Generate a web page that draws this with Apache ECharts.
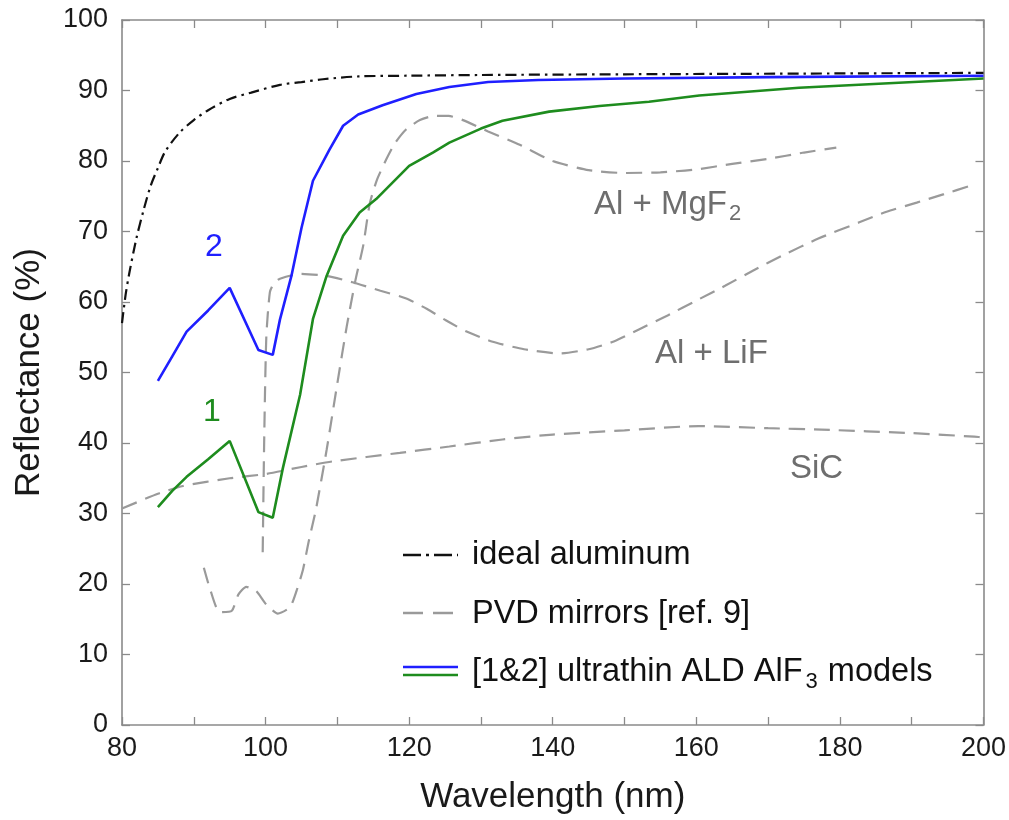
<!DOCTYPE html>
<html>
<head>
<meta charset="utf-8">
<script src="https://cdn.jsdelivr.net/npm/echarts@6/dist/echarts.min.js"></script>
<style>
html,body{margin:0;padding:0;background:#fff;}
#chart{width:1009px;height:820px;}
</style>
</head>
<body>
<div id="chart"></div>
<script>
// ---- data (wavelength nm, reflectance %) ----
var idealAlX = [80, 80.5, 81, 82, 83, 84, 85, 86, 88, 90, 92, 95, 98, 102, 105, 108, 113, 120, 130, 150, 175, 200];
var idealAlY = [57, 61, 64, 69, 73, 76.5, 79, 81.3, 84, 85.8, 87.2, 88.8, 89.7, 90.8, 91.2, 91.6, 92, 92.1, 92.2, 92.3, 92.4, 92.5];

var model2X = [85, 87, 89, 92, 95, 99, 101, 102, 103.6, 105, 106.6, 108.9, 110.8, 112.9, 116.3, 121, 125.6, 131, 138, 150, 170, 200];
var model2Y = [48.8, 52.3, 55.8, 58.8, 62, 53.2, 52.5, 57.5, 63.7, 70.5, 77.2, 81.6, 85, 86.6, 87.9, 89.5, 90.5, 91.2, 91.5, 91.7, 91.9, 92.1];

var model1X = [85, 87, 89, 92, 95, 99, 101, 102.4, 104.8, 106.6, 108.5, 110.8, 113.1, 115.4, 120, 123.3, 125.6, 130, 133, 139.5, 146.5, 153.4, 160.4, 174.3, 188.2, 200];
var model1Y = [30.9, 33.2, 35.2, 37.7, 40.3, 30.2, 29.4, 36.4, 46.8, 57.6, 63.7, 69.4, 72.7, 74.6, 79.3, 81.2, 82.6, 84.6, 85.7, 87, 87.8, 88.4, 89.3, 90.4, 91.1, 91.7];

var mgf2X = [91.4, 92.2, 93.6, 95.3, 96.2, 97.3, 98.7, 100.1, 101.7, 103.4, 104.3, 105.2, 106, 107, 108.5, 110, 111.3, 112.5, 113.6, 114.5, 115.5, 116.8, 118, 119.6, 121.5, 123.5, 125.5, 127.5, 131, 135.4, 140, 145, 150, 155, 160, 165, 170, 175, 179.5];
var mgf2Y = [22.3, 19.5, 16, 16.2, 18.5, 19.6, 19, 17.1, 15.8, 16.7, 19, 22, 26, 30.5, 39, 48.5, 56.5, 63, 68, 73.9, 77.3, 80.2, 82.5, 84.5, 85.8, 86.4, 86.4, 85.8, 84.2, 82.3, 80, 78.7, 78.3, 78.4, 78.8, 79.6, 80.3, 81.2, 81.9];

var lifX = [99.6, 99.8, 100.1, 100.6, 101.2, 102, 104.8, 108.5, 112.1, 116, 119.6, 122.5, 125.1, 128, 131.5, 136, 141, 145, 148.5, 152, 156, 160, 164, 168, 172, 177, 182.7, 186.5, 190.7, 194.5, 198.2];
var lifY = [24.5, 40, 55, 61.4, 62.7, 63.3, 64, 63.7, 62.8, 61.6, 60.5, 59, 57.4, 55.8, 54.4, 53.3, 52.7, 53.3, 54.4, 56.1, 58.1, 60.2, 62.3, 64.5, 66.6, 69, 71.3, 72.8, 74.1, 75.3, 76.5];

var sicX = [80, 85, 88.5, 95, 100, 105, 109.4, 118.7, 125.6, 133, 140, 150, 160.3, 170, 177.4, 190, 198.7, 200];
var sicY = [30.7, 32.8, 33.9, 35, 35.6, 36.6, 37.4, 38.6, 39.5, 40.5, 41.2, 41.8, 42.4, 42.1, 41.9, 41.4, 40.9, 40.8];

var xTickLabels = [80, 100, 120, 140, 160, 180, 200];
var yTickLabels = [0, 10, 20, 30, 40, 50, 60, 70, 80, 90, 100];
var legendNames = ['ideal aluminum', 'PVD mirrors [ref. 9]', '[1&2] ultrathin ALD AlF3 models'];

function pairs(xs, ys) { return xs.map(function (x, i) { return [x, ys[i]]; }); }

var FONT = '"Liberation Sans", Arial, Helvetica, sans-serif';
var AXC = '#8a8a8a';
var GRAY = '#9a9a9a';
var TXTGRAY = '#6e6e6e';
var BLUE = '#1f1fff';
var GREEN = '#1e8c1e';

var chart = echarts.init(document.getElementById('chart'), null, { renderer: 'canvas' });

function axisCommon(extra) {
  var base = {
    type: 'value',
    axisLine: { show: true, onZero: false, lineStyle: { color: AXC, width: 1.6 } },
    axisTick: { show: true, inside: true, length: 8, lineStyle: { color: AXC, width: 1.3 } },
    splitLine: { show: false }
  };
  for (var k in extra) base[k] = extra[k];
  return base;
}

var dashGray = { color: GRAY, width: 2.2, type: [16, 9] };

var option = {
  backgroundColor: '#fff',
  animation: false,
  grid: { left: 122, right: 24, top: 20, bottom: 92 },
  xAxis: [
    axisCommon({
      position: 'bottom', min: 80, max: 200, interval: 10,
      name: 'Wavelength (nm)', nameLocation: 'middle', nameGap: 55,
      nameTextStyle: { fontSize: 35, color: '#1a1a1a', fontFamily: FONT },
      axisLabel: {
        margin: 10, fontSize: 27, color: '#1a1a1a', fontFamily: FONT,
        formatter: function (v) { return xTickLabels.indexOf(v) >= 0 ? String(v) : ''; }
      }
    }),
    axisCommon({ position: 'top', min: 80, max: 200, interval: 10, axisLabel: { show: false } })
  ],
  yAxis: [
    axisCommon({
      position: 'left', min: 0, max: 100, interval: 10,
      name: 'Reflectance (%)', nameLocation: 'middle', nameGap: 75,
      nameTextStyle: { fontSize: 35, color: '#1a1a1a', fontFamily: FONT },
      axisLabel: {
        margin: 14, fontSize: 27, color: '#1a1a1a', fontFamily: FONT,
        formatter: function (v) { return yTickLabels.indexOf(v) >= 0 ? String(v) : ''; }
      }
    }),
    axisCommon({ position: 'right', min: 0, max: 100, interval: 10, axisLabel: { show: false } })
  ],
  series: [
    { name: 'SiC', type: 'line', data: pairs(sicX, sicY), showSymbol: false, smooth: 0.2, lineStyle: dashGray, z: 2 },
    { name: 'Al + LiF', type: 'line', data: pairs(lifX, lifY), showSymbol: false, smooth: 0.2, lineStyle: dashGray, z: 2 },
    { name: 'Al + MgF2', type: 'line', data: pairs(mgf2X, mgf2Y), showSymbol: false, smooth: 0.2, lineStyle: dashGray, z: 2 },
    { name: 'ideal aluminum', type: 'line', data: pairs(idealAlX, idealAlY), showSymbol: false, smooth: 0.3,
      lineStyle: { color: '#111', width: 2.2, type: [11, 5, 2.5, 5] }, z: 3 },
    { name: 'model 1', type: 'line', data: pairs(model1X, model1Y), showSymbol: false,
      lineStyle: { color: GREEN, width: 2.6 }, z: 4 },
    { name: 'model 2', type: 'line', data: pairs(model2X, model2Y), showSymbol: false,
      lineStyle: { color: BLUE, width: 2.6 }, z: 5 }
  ],
  graphic: [
    // annotations
    { type: 'text', left: 205, top: 231, style: { text: '2', fontSize: 32, fill: BLUE, fontFamily: FONT } },
    { type: 'text', left: 203, top: 396, style: { text: '1', fontSize: 32, fill: GREEN, fontFamily: FONT } },
    { type: 'text', left: 594, top: 188, style: {
        text: '{m|Al + MgF}{s|2}', fontFamily: FONT, fill: TXTGRAY,
        rich: { m: { fontSize: 33, fill: TXTGRAY, fontFamily: FONT, verticalAlign: 'bottom', padding: [0, 0, 4, 0] },
                s: { fontSize: 22, fill: TXTGRAY, fontFamily: FONT, verticalAlign: 'bottom', padding: [0, 0, 0, 2] } } } },
    { type: 'text', left: 655, top: 337, style: { text: 'Al + LiF', fontSize: 33, fill: TXTGRAY, fontFamily: FONT } },
    { type: 'text', left: 790, top: 452, style: { text: 'SiC', fontSize: 33, fill: TXTGRAY, fontFamily: FONT } },
    // legend
    { type: 'line', shape: { x1: 403, y1: 555, x2: 458, y2: 555 }, style: { stroke: '#111', lineWidth: 2.4, lineDash: [18, 5, 3, 5] } },
    { type: 'text', left: 472, top: 539, style: { text: legendNames[0], fontSize: 32.5, fill: '#111', fontFamily: FONT } },
    { type: 'line', shape: { x1: 403, y1: 613, x2: 458, y2: 613 }, style: { stroke: GRAY, lineWidth: 2.4, lineDash: [20, 10] } },
    { type: 'text', left: 472, top: 598, style: { text: legendNames[1], fontSize: 32.5, fill: '#111', fontFamily: FONT } },
    { type: 'line', shape: { x1: 403, y1: 667, x2: 458, y2: 667 }, style: { stroke: BLUE, lineWidth: 2.6 } },
    { type: 'line', shape: { x1: 403, y1: 675, x2: 458, y2: 675 }, style: { stroke: GREEN, lineWidth: 2.6 } },
    { type: 'text', left: 472, top: 656, style: {
        text: '{m|[1&2] ultrathin ALD AlF}{s|3}{m| models}', fontFamily: FONT, fill: '#111',
        rich: { m: { fontSize: 32.5, fill: '#111', fontFamily: FONT, verticalAlign: 'bottom', padding: [0, 0, 4, 0] },
                s: { fontSize: 22, fill: '#111', fontFamily: FONT, verticalAlign: 'bottom', padding: [0, 1, 0, 3] } } } }
  ]
};
chart.setOption(option);
</script>
</body>
</html>
